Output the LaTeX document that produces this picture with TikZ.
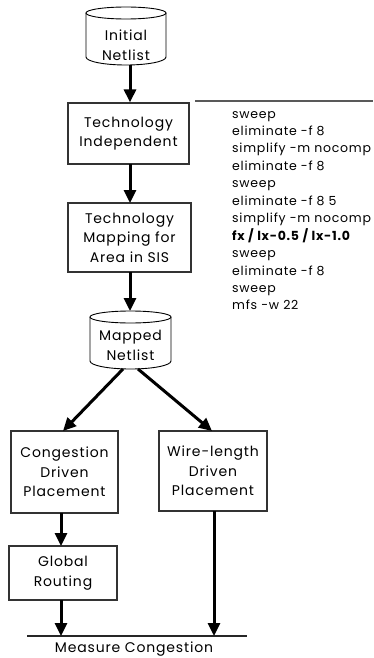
\documentclass[tikz,border=0pt]{standalone}
\usepackage{fontspec}
\setmainfont[LetterSpace=6]{Poppins}
\usetikzlibrary{arrows.meta}
\begin{document}
\begin{tikzpicture}[x=1pt,y=-1pt,
  box/.style={draw=black!80,line width=1.2pt,align=center,inner sep=0pt,
    font=\fontsize{14}{19.5}\selectfont},
  cyl/.style={draw=black,line width=0.9pt},
  cyltext/.style={align=center,inner sep=0pt,font=\fontsize{14}{20}\selectfont},
  flow/.style={line width=3pt,-{Triangle[width=12pt,length=13pt]}},
  cmd/.style={anchor=base west,inner sep=0pt,font=\fontsize{12.5}{14}\selectfont},
]
\useasboundingbox (0,0) rectangle (373,658);
% Initial netlist cylinder
\draw[cyl] (126,13) ellipse [x radius=40,y radius=6];
\draw[cyl] (86,13) -- (86,57) arc [start angle=180,end angle=0,x radius=40,y radius=8] -- (166,13);
\node[cyltext] (init) at (126,45) {Initial\\Netlist};
\coordinate (initb) at (130,65);
% Technology independent
\node[box,minimum width=121pt,minimum height=61pt] (ti) at (128.5,133.5) {Technology\\Independent};
% Technology mapping
\node[box,minimum width=123pt,minimum height=69pt] (tm) at (129.5,237.5) {Technology\\Mapping for\\Area in SIS};
% Mapped netlist cylinder
\draw[cyl] (130.5,317) ellipse [x radius=40.5,y radius=6];
\draw[cyl] (90,317) -- (90,361) arc [start angle=180,end angle=0,x radius=40.5,y radius=8] -- (171,317);
\node[cyltext] (mapped) at (130.5,345) {Mapped\\Netlist};
\coordinate (mappedt) at (130,311);
\coordinate (mbl) at (123,369);
\coordinate (mbr) at (138,369);
% placements
\node[box,minimum width=107pt,minimum height=82pt] (cong) at (64.5,472) {Congestion\\Driven\\Placement};
\node[box,minimum width=108pt,minimum height=80pt] (wire) at (213,471) {Wire-length\\Driven\\Placement};
\node[box,minimum width=108pt,minimum height=54pt] (glob) at (63,573) {Global\\Routing};
% measure line
\coordinate (ml) at (27,636);
\coordinate (mr) at (247,636);
\draw[line width=1.2pt,draw=black!85] (ml) -- (mr);
\node[anchor=base,inner sep=0pt,font=\fontsize{14}{15}\selectfont] (meas) at (134,652) {Measure Congestion};
\coordinate (mlx) at (61,636);
\coordinate (mrx) at (214,636);
% arrows
\draw[flow] (initb) -- (initb |- ti.north);
\draw[flow] (130,164) -- (130,203);
\draw[flow] (130,272) -- (mappedt);
\draw[flow] (mbl) -- (63,431);
\draw[flow] (mbr) -- (212,431);
\draw[flow] (61,513) -- (61,546);
\draw[flow] (61,600) -- (mlx);
\draw[flow] (214,511) -- (mrx);
% command list
\coordinate (lt) at (195,101);
\draw[line width=1.2pt,draw=black!65] (lt) -- (373,101);
\foreach \t [count=\i] in {sweep,eliminate -f 8,simplify -m nocomp,eliminate -f 8,sweep,eliminate -f 8 5,simplify -m nocomp,{\bfseries fx / lx-0.5 / lx-1.0},sweep,eliminate -f 8,sweep,mfs -w 22}
  \node[cmd] (c\i) at (232,{118+(\i-1)*17.45}) {\t};
\end{tikzpicture}
\end{document}
